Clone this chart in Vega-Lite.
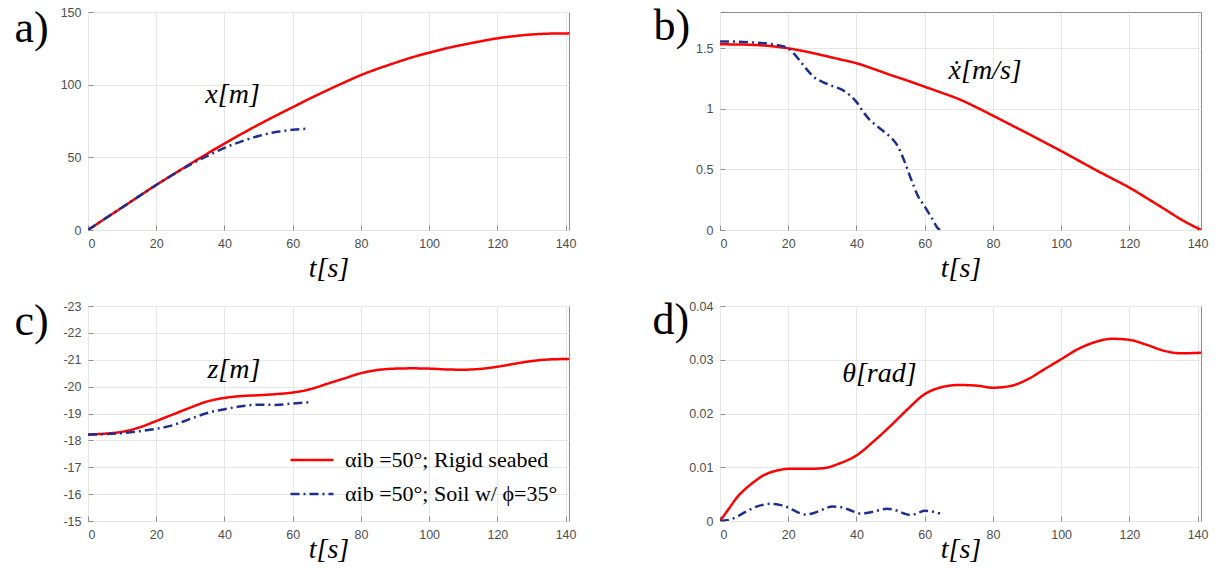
{
  "$schema": "https://vega.github.io/schema/vega-lite/v6.json",
  "background": "white",
  "padding": {"left": 13, "top": 3, "right": 0, "bottom": 0},
  "datasets": {
    "xd": [
      {"t": 0, "v": 0, "s": "Rigid"}, {"t": 5, "v": 7.8, "s": "Rigid"}, {"t": 10, "v": 15.5, "s": "Rigid"}, {"t": 15, "v": 23.3, "s": "Rigid"}, {"t": 20, "v": 31, "s": "Rigid"}, {"t": 25, "v": 38.3, "s": "Rigid"}, {"t": 30, "v": 45.5, "s": "Rigid"}, {"t": 35, "v": 52.6, "s": "Rigid"}, {"t": 40, "v": 59.5, "s": "Rigid"}, {"t": 45, "v": 66.1, "s": "Rigid"}, {"t": 50, "v": 72.5, "s": "Rigid"}, {"t": 55, "v": 78.6, "s": "Rigid"}, {"t": 60, "v": 84.5, "s": "Rigid"}, {"t": 65, "v": 90.4, "s": "Rigid"}, {"t": 70, "v": 96, "s": "Rigid"}, {"t": 75, "v": 101.4, "s": "Rigid"}, {"t": 80, "v": 106.6, "s": "Rigid"}, {"t": 85, "v": 111, "s": "Rigid"}, {"t": 90, "v": 115, "s": "Rigid"}, {"t": 95, "v": 118.8, "s": "Rigid"}, {"t": 100, "v": 122, "s": "Rigid"}, {"t": 105, "v": 125, "s": "Rigid"}, {"t": 110, "v": 127.5, "s": "Rigid"}, {"t": 115, "v": 129.8, "s": "Rigid"}, {"t": 120, "v": 131.9, "s": "Rigid"}, {"t": 125, "v": 133.4, "s": "Rigid"}, {"t": 130, "v": 134.5, "s": "Rigid"}, {"t": 135, "v": 135.1, "s": "Rigid"}, {"t": 141, "v": 135.3, "s": "Rigid"},
      {"t": 0, "v": 0, "s": "Soil"}, {"t": 5, "v": 7.8, "s": "Soil"}, {"t": 10, "v": 15.5, "s": "Soil"}, {"t": 15, "v": 23.3, "s": "Soil"}, {"t": 20, "v": 31, "s": "Soil"}, {"t": 25, "v": 38.2, "s": "Soil"}, {"t": 30, "v": 45, "s": "Soil"}, {"t": 35, "v": 51, "s": "Soil"}, {"t": 40, "v": 56.5, "s": "Soil"}, {"t": 45, "v": 61, "s": "Soil"}, {"t": 50, "v": 64.7, "s": "Soil"}, {"t": 55, "v": 67.4, "s": "Soil"}, {"t": 60, "v": 69, "s": "Soil"}, {"t": 64.5, "v": 69.7, "s": "Soil"}
    ],
    "vd": [
      {"t": 0, "v": 1.533, "s": "Rigid"}, {"t": 5, "v": 1.532, "s": "Rigid"}, {"t": 10, "v": 1.528, "s": "Rigid"}, {"t": 15, "v": 1.518, "s": "Rigid"}, {"t": 20, "v": 1.5, "s": "Rigid"}, {"t": 25, "v": 1.474, "s": "Rigid"}, {"t": 30, "v": 1.443, "s": "Rigid"}, {"t": 35, "v": 1.41, "s": "Rigid"}, {"t": 40, "v": 1.377, "s": "Rigid"}, {"t": 45, "v": 1.33, "s": "Rigid"}, {"t": 50, "v": 1.28, "s": "Rigid"}, {"t": 55, "v": 1.233, "s": "Rigid"}, {"t": 60, "v": 1.183, "s": "Rigid"}, {"t": 65, "v": 1.133, "s": "Rigid"}, {"t": 70, "v": 1.081, "s": "Rigid"}, {"t": 75, "v": 1.015, "s": "Rigid"}, {"t": 80, "v": 0.944, "s": "Rigid"}, {"t": 85, "v": 0.872, "s": "Rigid"}, {"t": 90, "v": 0.8, "s": "Rigid"}, {"t": 95, "v": 0.726, "s": "Rigid"}, {"t": 100, "v": 0.652, "s": "Rigid"}, {"t": 105, "v": 0.575, "s": "Rigid"}, {"t": 110, "v": 0.498, "s": "Rigid"}, {"t": 115, "v": 0.424, "s": "Rigid"}, {"t": 120, "v": 0.35, "s": "Rigid"}, {"t": 125, "v": 0.265, "s": "Rigid"}, {"t": 130, "v": 0.178, "s": "Rigid"}, {"t": 135, "v": 0.09, "s": "Rigid"}, {"t": 141, "v": 0, "s": "Rigid"},
      {"t": 0, "v": 1.557, "s": "Soil"}, {"t": 5, "v": 1.555, "s": "Soil"}, {"t": 10, "v": 1.548, "s": "Soil"}, {"t": 15, "v": 1.535, "s": "Soil"}, {"t": 18, "v": 1.52, "s": "Soil"}, {"t": 20, "v": 1.5, "s": "Soil"}, {"t": 22, "v": 1.446, "s": "Soil"}, {"t": 24, "v": 1.377, "s": "Soil"}, {"t": 26, "v": 1.307, "s": "Soil"}, {"t": 28, "v": 1.252, "s": "Soil"}, {"t": 30, "v": 1.224, "s": "Soil"}, {"t": 33, "v": 1.188, "s": "Soil"}, {"t": 36, "v": 1.155, "s": "Soil"}, {"t": 38, "v": 1.114, "s": "Soil"}, {"t": 40, "v": 1.058, "s": "Soil"}, {"t": 42, "v": 0.975, "s": "Soil"}, {"t": 44, "v": 0.906, "s": "Soil"}, {"t": 46, "v": 0.859, "s": "Soil"}, {"t": 48, "v": 0.814, "s": "Soil"}, {"t": 50, "v": 0.767, "s": "Soil"}, {"t": 52, "v": 0.698, "s": "Soil"}, {"t": 54, "v": 0.573, "s": "Soil"}, {"t": 56, "v": 0.421, "s": "Soil"}, {"t": 58, "v": 0.283, "s": "Soil"}, {"t": 60, "v": 0.194, "s": "Soil"}, {"t": 62, "v": 0.102, "s": "Soil"}, {"t": 64, "v": 0.01, "s": "Soil"}, {"t": 64.5, "v": 0, "s": "Soil"}
    ],
    "zd": [
      {"t": 0, "v": -18.22, "s": "Rigid"}, {"t": 5, "v": -18.25, "s": "Rigid"}, {"t": 10, "v": -18.32, "s": "Rigid"}, {"t": 15, "v": -18.48, "s": "Rigid"}, {"t": 20, "v": -18.72, "s": "Rigid"}, {"t": 25, "v": -18.97, "s": "Rigid"}, {"t": 30, "v": -19.22, "s": "Rigid"}, {"t": 35, "v": -19.45, "s": "Rigid"}, {"t": 40, "v": -19.58, "s": "Rigid"}, {"t": 45, "v": -19.65, "s": "Rigid"}, {"t": 50, "v": -19.68, "s": "Rigid"}, {"t": 55, "v": -19.72, "s": "Rigid"}, {"t": 60, "v": -19.78, "s": "Rigid"}, {"t": 65, "v": -19.9, "s": "Rigid"}, {"t": 70, "v": -20.1, "s": "Rigid"}, {"t": 75, "v": -20.3, "s": "Rigid"}, {"t": 80, "v": -20.5, "s": "Rigid"}, {"t": 85, "v": -20.62, "s": "Rigid"}, {"t": 90, "v": -20.67, "s": "Rigid"}, {"t": 95, "v": -20.68, "s": "Rigid"}, {"t": 100, "v": -20.67, "s": "Rigid"}, {"t": 105, "v": -20.64, "s": "Rigid"}, {"t": 110, "v": -20.63, "s": "Rigid"}, {"t": 115, "v": -20.66, "s": "Rigid"}, {"t": 120, "v": -20.74, "s": "Rigid"}, {"t": 125, "v": -20.85, "s": "Rigid"}, {"t": 130, "v": -20.95, "s": "Rigid"}, {"t": 135, "v": -21.01, "s": "Rigid"}, {"t": 141, "v": -21.03, "s": "Rigid"},
      {"t": 0, "v": -18.22, "s": "Soil"}, {"t": 5, "v": -18.23, "s": "Soil"}, {"t": 10, "v": -18.27, "s": "Soil"}, {"t": 15, "v": -18.34, "s": "Soil"}, {"t": 20, "v": -18.43, "s": "Soil"}, {"t": 25, "v": -18.57, "s": "Soil"}, {"t": 30, "v": -18.8, "s": "Soil"}, {"t": 35, "v": -19.02, "s": "Soil"}, {"t": 40, "v": -19.16, "s": "Soil"}, {"t": 45, "v": -19.27, "s": "Soil"}, {"t": 50, "v": -19.33, "s": "Soil"}, {"t": 55, "v": -19.32, "s": "Soil"}, {"t": 60, "v": -19.37, "s": "Soil"}, {"t": 65, "v": -19.42, "s": "Soil"}
    ],
    "thd": [
      {"t": 0, "v": 0, "s": "Rigid"}, {"t": 2.5, "v": 0.0022, "s": "Rigid"}, {"t": 5, "v": 0.0044, "s": "Rigid"}, {"t": 7.5, "v": 0.006, "s": "Rigid"}, {"t": 10, "v": 0.0073, "s": "Rigid"}, {"t": 12.5, "v": 0.0084, "s": "Rigid"}, {"t": 15, "v": 0.0091, "s": "Rigid"}, {"t": 17.5, "v": 0.0095, "s": "Rigid"}, {"t": 20, "v": 0.0097, "s": "Rigid"}, {"t": 25, "v": 0.0097, "s": "Rigid"}, {"t": 30, "v": 0.0098, "s": "Rigid"}, {"t": 35, "v": 0.0107, "s": "Rigid"}, {"t": 40, "v": 0.0122, "s": "Rigid"}, {"t": 45, "v": 0.0148, "s": "Rigid"}, {"t": 50, "v": 0.0177, "s": "Rigid"}, {"t": 55, "v": 0.0208, "s": "Rigid"}, {"t": 60, "v": 0.0236, "s": "Rigid"}, {"t": 65, "v": 0.0249, "s": "Rigid"}, {"t": 70, "v": 0.0253, "s": "Rigid"}, {"t": 75, "v": 0.0252, "s": "Rigid"}, {"t": 80, "v": 0.0248, "s": "Rigid"}, {"t": 85, "v": 0.0251, "s": "Rigid"}, {"t": 90, "v": 0.0263, "s": "Rigid"}, {"t": 95, "v": 0.0282, "s": "Rigid"}, {"t": 100, "v": 0.0301, "s": "Rigid"}, {"t": 105, "v": 0.032, "s": "Rigid"}, {"t": 110, "v": 0.0333, "s": "Rigid"}, {"t": 115, "v": 0.0339, "s": "Rigid"}, {"t": 120, "v": 0.0337, "s": "Rigid"}, {"t": 125, "v": 0.0328, "s": "Rigid"}, {"t": 130, "v": 0.0317, "s": "Rigid"}, {"t": 135, "v": 0.0312, "s": "Rigid"}, {"t": 141, "v": 0.0313, "s": "Rigid"},
      {"t": 0, "v": 0, "s": "Soil"}, {"t": 2.5, "v": 0.0002, "s": "Soil"}, {"t": 5, "v": 0.0008, "s": "Soil"}, {"t": 7.5, "v": 0.0017, "s": "Soil"}, {"t": 10, "v": 0.0025, "s": "Soil"}, {"t": 12.5, "v": 0.003, "s": "Soil"}, {"t": 15, "v": 0.0032, "s": "Soil"}, {"t": 17.5, "v": 0.003, "s": "Soil"}, {"t": 20, "v": 0.0025, "s": "Soil"}, {"t": 22.5, "v": 0.0017, "s": "Soil"}, {"t": 25, "v": 0.0012, "s": "Soil"}, {"t": 27.5, "v": 0.0015, "s": "Soil"}, {"t": 30, "v": 0.0021, "s": "Soil"}, {"t": 33, "v": 0.0027, "s": "Soil"}, {"t": 36, "v": 0.0025, "s": "Soil"}, {"t": 39, "v": 0.0018, "s": "Soil"}, {"t": 41, "v": 0.0014, "s": "Soil"}, {"t": 43, "v": 0.0015, "s": "Soil"}, {"t": 46, "v": 0.0019, "s": "Soil"}, {"t": 49, "v": 0.0023, "s": "Soil"}, {"t": 52, "v": 0.0019, "s": "Soil"}, {"t": 54, "v": 0.0014, "s": "Soil"}, {"t": 56, "v": 0.0011, "s": "Soil"}, {"t": 58, "v": 0.0015, "s": "Soil"}, {"t": 60, "v": 0.0019, "s": "Soil"}, {"t": 62, "v": 0.0018, "s": "Soil"}, {"t": 64.5, "v": 0.0014, "s": "Soil"}
    ],
    "lab": [
      {"p": "a", "t": 34.4, "v": 87.6, "txt": "x[m]"},
      {"p": "b", "t": 67, "v": 1.246, "txt": "ẋ[m/s]"},
      {"p": "c", "t": 35, "v": -20.33, "txt": "z[m]"},
      {"p": "d", "t": 35.8, "v": 0.0258, "txt": "θ[rad]"}
    ]
  },
  "config": {
    "view": {"stroke": "#8c8c8c", "strokeWidth": 1},
    "axis": {"domain": false, "ticks": true, "tickSize": -5, "tickColor": "#8c8c8c", "grid": true, "gridColor": "#e6e6e6", "labelFont": "Liberation Sans", "labelFontSize": 12.5, "labelColor": "#4d4d4d", "labelPadding": 12, "labelOverlap": false},
    "axisX": {"titleFont": "Liberation Serif", "titleFontStyle": "italic", "titleFontWeight": "normal", "titleFontSize": 28, "titleColor": "black", "titleBaseline": "alphabetic"},
    "axisY": {"titleAngle": 0, "titleAlign": "left", "titleBaseline": "alphabetic", "titleFont": "Liberation Serif", "titleFontWeight": "normal", "titleFontSize": 44, "titleColor": "black"},
    "legend": {"labelFont": "Liberation Serif", "labelFontSize": 22, "labelColor": "black", "labelLimit": 0, "labelOffset": 10, "padding": 0},
    "line": {"strokeWidth": 2.5, "interpolate": "monotone"},
    "text": {"font": "Liberation Serif", "fontStyle": "italic", "fontSize": 28, "align": "left", "baseline": "alphabetic", "color": "black"}
  },
  "resolve": {"scale": {"color": "independent", "strokeDash": "independent"}, "legend": {"color": "independent", "strokeDash": "independent"}},
  "bounds": "flush",
  "columns": 2,
  "spacing": {"row": 76, "column": 151},
  "concat": [
    {
      "width": 481, "height": 218,
      "layer": [
        {
          "data": {"name": "xd"},
          "mark": {"type": "line", "clip": true},
          "encoding": {
            "x": {"field": "t", "type": "quantitative", "scale": {"domain": [0, 141], "nice": false, "zero": false}, "axis": {"values": [0, 20, 40, 60, 80, 100, 120, 140], "tickCount": 20, "title": "t[s]", "titleY": 46}},
            "y": {"field": "v", "type": "quantitative", "scale": {"domain": [0, 150], "nice": false}, "axis": {"values": [0, 50, 100, 150], "tickCount": 20, "labelExpr": "format(datum.value, '~g')", "title": "a)", "titleX": -74, "titleY": 29}},
            "color": {"field": "s", "type": "nominal", "scale": {"domain": ["Rigid", "Soil"], "range": ["#ff0000", "#1f2f8f"]}, "legend": null},
            "strokeDash": {"field": "s", "type": "nominal", "scale": {"domain": ["Rigid", "Soil"], "range": [[1, 0], [9, 4, 2, 4]]}, "legend": null}
          }
        },
        {
          "data": {"name": "lab"},
          "transform": [{"filter": "datum.p == 'a'"}],
          "mark": {"type": "text"},
          "encoding": {"x": {"field": "t", "type": "quantitative"}, "y": {"field": "v", "type": "quantitative"}, "text": {"field": "txt"}}
        }
      ]
    },
    {
      "width": 481, "height": 218,
      "layer": [
        {
          "data": {"name": "vd"},
          "mark": {"type": "line", "clip": true},
          "encoding": {
            "x": {"field": "t", "type": "quantitative", "scale": {"domain": [0, 141], "nice": false, "zero": false}, "axis": {"values": [0, 20, 40, 60, 80, 100, 120, 140], "tickCount": 20, "title": "t[s]", "titleY": 46}},
            "y": {"field": "v", "type": "quantitative", "scale": {"domain": [0, 1.8], "nice": false}, "axis": {"values": [0, 0.5, 1, 1.5], "tickCount": 20, "labelExpr": "format(datum.value, '~g')", "title": "b)", "titleX": -67, "titleY": 27}},
            "color": {"field": "s", "type": "nominal", "scale": {"domain": ["Rigid", "Soil"], "range": ["#ff0000", "#1f2f8f"]}, "legend": null},
            "strokeDash": {"field": "s", "type": "nominal", "scale": {"domain": ["Rigid", "Soil"], "range": [[1, 0], [9, 4, 2, 4]]}, "legend": null}
          }
        },
        {
          "data": {"name": "lab"},
          "transform": [{"filter": "datum.p == 'b'"}],
          "mark": {"type": "text"},
          "encoding": {"x": {"field": "t", "type": "quantitative"}, "y": {"field": "v", "type": "quantitative"}, "text": {"field": "txt"}}
        }
      ]
    },
    {
      "width": 481, "height": 215,
      "layer": [
        {
          "data": {"name": "zd"},
          "mark": {"type": "line", "clip": true},
          "encoding": {
            "x": {"field": "t", "type": "quantitative", "scale": {"domain": [0, 141], "nice": false, "zero": false}, "axis": {"values": [0, 20, 40, 60, 80, 100, 120, 140], "tickCount": 20, "title": "t[s]", "titleY": 36}},
            "y": {"field": "v", "type": "quantitative", "scale": {"domain": [-23, -15], "nice": false, "zero": false, "reverse": true}, "axis": {"values": [-23, -22, -21, -20, -19, -18, -17, -16, -15], "tickCount": 20, "labelOverlap": false, "title": "c)", "titleX": -74, "titleY": 28, "labelExpr": "replace(format(datum.value, '~g'), '\u2212', '-')"}},
            "color": {"field": "s", "type": "nominal", "scale": {"domain": ["Rigid", "Soil"], "range": ["#ff0000", "#1f2f8f"]},
              "legend": {"orient": "none", "legendX": 201, "legendY": 131, "title": null, "padding": 0, "symbolType": "stroke", "symbolSize": 1849, "symbolStrokeWidth": 2.5, "labelFont": "Liberation Serif", "labelFontSize": 22, "labelColor": "black", "labelOffset": 10, "rowPadding": -6, "labelLimit": 0, "labelExpr": "datum.label == 'Rigid' ? 'αib =50°; Rigid seabed' : 'αib =50°; Soil w/ ϕ=35°'"}},
            "strokeDash": {"field": "s", "type": "nominal", "scale": {"domain": ["Rigid", "Soil"], "range": [[1, 0], [9, 4, 2, 4]]},
              "legend": {"orient": "none", "legendX": 201, "legendY": 131, "title": null, "padding": 0, "symbolType": "stroke", "symbolSize": 1849, "symbolStrokeWidth": 2.5, "labelFont": "Liberation Serif", "labelFontSize": 22, "labelColor": "black", "labelOffset": 10, "rowPadding": -6, "labelLimit": 0, "labelExpr": "datum.label == 'Rigid' ? 'αib =50°; Rigid seabed' : 'αib =50°; Soil w/ ϕ=35°'"}}
          }
        },
        {
          "data": {"name": "lab"},
          "transform": [{"filter": "datum.p == 'c'"}],
          "mark": {"type": "text"},
          "encoding": {"x": {"field": "t", "type": "quantitative"}, "y": {"field": "v", "type": "quantitative"}, "text": {"field": "txt"}}
        }
      ]
    },
    {
      "width": 481, "height": 215,
      "layer": [
        {
          "data": {"name": "thd"},
          "mark": {"type": "line", "clip": true},
          "encoding": {
            "x": {"field": "t", "type": "quantitative", "scale": {"domain": [0, 141], "nice": false, "zero": false}, "axis": {"values": [0, 20, 40, 60, 80, 100, 120, 140], "tickCount": 20, "title": "t[s]", "titleY": 36}},
            "y": {"field": "v", "type": "quantitative", "scale": {"domain": [0, 0.04], "nice": false}, "axis": {"values": [0, 0.01, 0.02, 0.03, 0.04], "tickCount": 20, "labelExpr": "format(datum.value, '~g')", "title": "d)", "titleX": -68, "titleY": 27}},
            "color": {"field": "s", "type": "nominal", "scale": {"domain": ["Rigid", "Soil"], "range": ["#ff0000", "#1f2f8f"]}, "legend": null},
            "strokeDash": {"field": "s", "type": "nominal", "scale": {"domain": ["Rigid", "Soil"], "range": [[1, 0], [9, 4, 2, 4]]}, "legend": null}
          }
        },
        {
          "data": {"name": "lab"},
          "transform": [{"filter": "datum.p == 'd'"}],
          "mark": {"type": "text"},
          "encoding": {"x": {"field": "t", "type": "quantitative"}, "y": {"field": "v", "type": "quantitative"}, "text": {"field": "txt"}}
        }
      ]
    }
  ]
}
